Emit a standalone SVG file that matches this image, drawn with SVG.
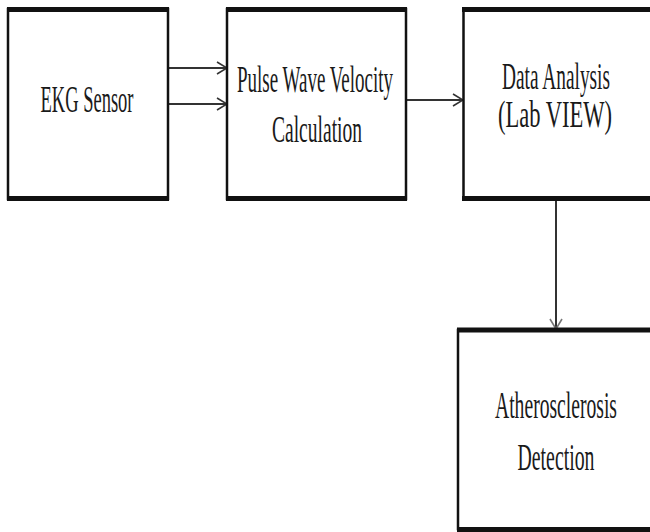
<svg xmlns="http://www.w3.org/2000/svg" width="650" height="532" viewBox="0 0 650 532">
<defs>
<style>
.box{fill:#fff;stroke:#111;stroke-width:2.5}
.edge{stroke:#111;stroke-width:5}
.lbl{font-family:"Liberation Serif","Times New Roman",serif;font-size:38px;fill:#1a1a1a;text-anchor:middle}
.con{stroke:#333;stroke-width:2;fill:none}
</style>
<marker id="arr" markerWidth="12" markerHeight="14" refX="11" refY="7" orient="auto" markerUnits="userSpaceOnUse">
<path d="M1,1 L11,7 L1,13" fill="none" stroke="#333" stroke-width="1.6"/>
</marker>
<marker id="arrg" markerWidth="12" markerHeight="14" refX="11" refY="7" orient="auto" markerUnits="userSpaceOnUse">
<path d="M1,1 L11,7 L1,13" fill="none" stroke="#777" stroke-width="1.6"/>
</marker>
</defs>
<rect width="650" height="532" fill="#fff"/>
<g id="connectors">
<line class="con" x1="168" y1="68" x2="227" y2="68" marker-end="url(#arr)"/>
<line class="con" x1="168" y1="104" x2="227" y2="104" marker-end="url(#arr)"/>
<line class="con" x1="406" y1="100" x2="463" y2="100" marker-end="url(#arr)"/>
<line class="con" x1="556" y1="200" x2="556" y2="329" marker-end="url(#arrg)" stroke="#777"/>
</g>
<g id="ekg">
<rect class="box" x="8" y="9" width="160" height="190"/>
<line class="edge" x1="7" y1="9.5" x2="169" y2="9.5"/>
<line class="edge" x1="7" y1="198.5" x2="169" y2="198.5"/>
<text class="lbl" transform="translate(87,112) scale(0.5,1)" textLength="186" lengthAdjust="spacingAndGlyphs">EKG Sensor</text>
</g>
<g id="pwv">
<rect class="box" x="227" y="9" width="179" height="190"/>
<line class="edge" x1="226" y1="9.5" x2="407" y2="9.5"/>
<line class="edge" x1="226" y1="198.5" x2="407" y2="198.5"/>
<text class="lbl" transform="translate(315,92) scale(0.5,1)" textLength="312" lengthAdjust="spacingAndGlyphs">Pulse Wave Velocity</text>
<text class="lbl" transform="translate(317,142) scale(0.5,1)" textLength="180" lengthAdjust="spacingAndGlyphs">Calculation</text>
</g>
<g id="analysis">
<rect class="box" x="463.5" y="9" width="190" height="189"/>
<line class="edge" x1="462" y1="9.5" x2="652" y2="9.5"/>
<line class="edge" x1="462" y1="198.5" x2="652" y2="198.5"/>
<text class="lbl" transform="translate(556,89) scale(0.5,1)" textLength="216" lengthAdjust="spacingAndGlyphs">Data Analysis</text>
<text class="lbl" transform="translate(555,127) scale(0.5,1)" textLength="228" lengthAdjust="spacingAndGlyphs">(Lab VIEW)</text>
</g>
<g id="athero">
<rect class="box" x="458" y="330" width="200" height="199"/>
<line class="edge" x1="457" y1="330" x2="652" y2="330"/>
<line class="edge" x1="457" y1="529.5" x2="652" y2="529.5"/>
<text class="lbl" transform="translate(556,418) scale(0.5,1)" textLength="244" lengthAdjust="spacingAndGlyphs">Atherosclerosis</text>
<text class="lbl" transform="translate(556,470) scale(0.5,1)" textLength="154" lengthAdjust="spacingAndGlyphs">Detection</text>
</g>
</svg>
